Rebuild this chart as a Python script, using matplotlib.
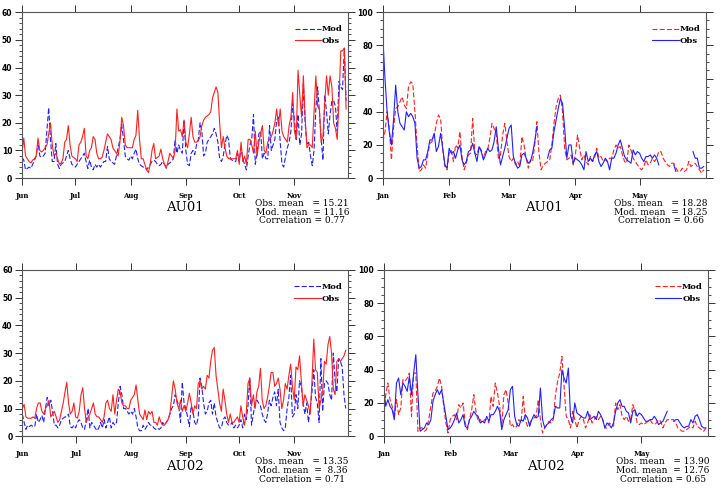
import numpy as np
import matplotlib
matplotlib.use("Agg")
import matplotlib.pyplot as plt
from matplotlib.ticker import MultipleLocator
from matplotlib.lines import Line2D

nan = np.nan

#
# Daily series (Jun-Nov season, left panels)
#
jun_months = ["Jun", "Jul", "Aug", "Sep", "Oct", "Nov"]
jun_month_days = [0, 30, 61, 92, 122, 153]
jun_ndays = 183

au01_jun_mod = [7.5, 6.5, 3, 3.5, 4, 3.5, 5, 6.5, 8, 13,
                8, 7.5, 8, 9, 17, 25.5, 14, 6, 6, 12.5,
                5, 3.5, 5, 5.5, 6, 8, 10, 7, 5, 4.5,
                4, 5, 6, 7, 8, 9, 6, 3.5, 6.5, 4,
                3, 5, 4, 5, 4, 5, 6, 6, 11.5, 7,
                6, 5.5, 5, 8, 11, 14, 19.5, 14, 8, 7,
                6.5, 8, 7, 9, 10.5, 7, 5, 4.5, 4, 4,
                3, 4, 5, 6, 6.5, 6, 5, 4.5, 5, 6,
                5, 4, 5, 5.5, 6, 7, 14, 9, 12, 10,
                9, 21, 10, 5, 4.5, 9, 10, 8.5, 12, 14,
                20, 17, 8, 9, 13, 14, 15, 16, 18, 16,
                13, 7, 6, 8, 12, 15.5, 14, 7, 6.5, 6,
                6, 9, 6, 11, 7, 5, 3, 8, 12, 14,
                23, 5, 9, 16, 17, 7, 9, 7, 7, 19,
                10, 12, 14, 21, 22, 13, 5, 4, 8, 11,
                13, 17, 27, 21, 14, 23, 12, 16, 34, 20,
                12, 13, 8, 4.5, 10, 25, 33, 24, 14, 6.5,
                30, 24, 16, 23, 28, 28, 26, 17, 35, 33,
                32, 47, 28]
au01_jun_obs = [9, 14.5, 8, 7, 6, 5.5, 6.5, 7, 8, 14.5,
                10, 9.5, 10, 11, 12, 16, 20, 12, 8, 9,
                7, 5, 5.5, 7, 13, 14, 19, 12, 8, 7.5,
                7, 6, 12, 13, 15, 18, 8, 7, 10, 11,
                15, 14, 9, 7, 7, 7.5, 10, 13, 16, 15,
                14, 11, 10, 9, 8, 13, 22, 19, 12, 11,
                11, 11, 11, 14, 15.5, 24.5, 14, 7, 7, 5,
                3, 2, 5, 10, 12.5, 7, 7.5, 8, 10.5, 7,
                5, 3.5, 6, 9, 8, 7, 10, 25, 17, 17.5,
                15, 21, 13, 11, 16, 22, 15, 13, 13, 13.5,
                15, 19, 21, 22, 22.5, 23, 24, 29, 31, 33,
                31, 20, 11, 15, 11, 8, 7, 7, 7, 7,
                7, 10, 5, 13, 6, 8, 5, 14, 14, 12,
                9, 17, 8, 13, 16, 19, 10, 9, 13, 14,
                15, 17, 20, 25, 19, 25, 17, 15, 14, 13,
                19, 22, 31, 17, 14, 39, 30, 22, 37, 22,
                11, 12, 12, 11, 24, 37, 26, 25, 13, 15,
                27, 37, 30, 37, 33, 20, 18, 14, 28, 46,
                46, 47, 25]

au02_jun_obs = [10, 11.5, 7, 6.5, 6.5, 6.5, 7, 6.5, 10,
                12, 12, 9, 8, 10, 11, 13, 7, 8, 9,
                7, 5, 6, 9, 12, 16, 19.5, 12, 8,
                9, 12, 7, 6.5, 9, 15, 17.5, 10, 5,
                7, 8, 10, 12, 8, 7, 7, 6, 5, 7,
                12, 13, 10, 9, 15, 8, 13, 17, 16,
                12, 11, 11, 10, 10, 13, 14, 15, 18.5, 13,
                8, 7, 6, 9.5, 6, 9, 8, 9, 5,
                5, 4, 7, 5, 4, 4, 5, 6, 8,
                14, 20, 17, 12, 10, 13, 9, 11, 9, 12,
                15.5, 12, 8, 11, 10, 19, 20, 17, 18,
                17, 22, 21, 27, 31, 32, 22, 17, 12, 9,
                17, 13, 8, 5, 8, 5, 5, 6, 7,
                5, 11, 7, 4, 8, 19, 21, 11, 15,
                10, 16, 18, 24.5, 13, 10, 11, 14, 18, 23,
                23, 18, 19, 21, 17, 10, 13, 19, 17, 22,
                26, 18, 13, 25, 24, 29, 20, 11, 15,
                13, 11, 8, 20, 35, 24, 23, 10, 13, 16,
                27, 26, 33, 36, 30, 17, 15, 27, 28,
                27, 28, 29, 31]
au02_jun_mod = [8, 5, 2.5, 4, 3.5, 4, 3.5, 3.5, 8,
                5, 6, 7.5, 5, 10, 14, 11, 13, 9, 4,
                4, 3, 4, 6, 6.5, 7, 7, 8, 3.5,
                3, 4, 3, 5, 6, 5, 3, 2.5, 6,
                10, 3, 5, 4, 3, 2, 3, 5, 3, 6,
                3, 5, 7, 3, 5, 4, 5, 12, 18,
                15, 10, 10, 9, 8, 9, 8, 10, 7,
                3, 2, 2, 4, 2.5, 3.5, 5, 4, 4, 3,
                2.5, 3, 2.5, 3, 5, 4, 5, 6, 8,
                10, 11, 15, 13, 11, 5, 19.5, 12, 10,
                7, 3.5, 11, 9, 5, 4, 7, 21, 18, 12,
                8, 9, 12, 13, 8, 12, 7, 5, 3,
                3, 6, 7, 5, 4, 4, 5, 3, 4, 3,
                4, 6, 3, 8, 6, 11, 21, 4, 8,
                12, 13, 12, 11, 8, 6, 5, 8, 13,
                11, 14, 16, 11, 17, 5, 3, 2, 3, 10,
                14, 22, 7, 8, 15, 10, 20, 18, 12,
                8, 12, 5, 10, 16, 24, 14, 12, 5,
                28, 9, 19, 20, 19, 15, 13, 30, 20, 16,
                28, 27, 25, 15, 10]

#
# Daily series (Jan-May season, right panels)
#
jan_months = ["Jan", "Feb", "Mar", "Apr", "May"]
jan_month_days = [0, 31, 59, 90, 120]
jan_ndays = 151

au01_jan_mod = [22, 28, 40, 30, 11, 30, 42, 43, 46, 49,
                44, 42, 55, 58, 57, 40, 20, 4, 5, 8,
                6, 14, 21, 22, 25, 33, 38, 36, 17, 7,
                5, 15, 17, 10, 20, 18, 28, 13, 5, 9,
                14, 15, 36, 15, 14, 19, 17, 12, 16, 17,
                24, 33, 30, 27, 12, 14, 26, 33, 22, 13,
                10, 12, 8, 10, 7, 25, 20, 12, 6, 11,
                10, 20, 34, 15, 5, 8, 9, 10, 11, 20,
                33, 43, 48, 50, 40, 18, 11, 12, 14, 8,
                14, 26, 18, 11, 14, 10, 8, 13, 10, 12,
                18, 12, 13, 10, 11, 10, 12, 12, 17, 20,
                18, 19, 14, 10, 9, 20, 17, 12, 10, 8,
                6, 5, 7, 11, 8, 9, 12, 10, 12, 16,
                16, 12, 10, 8, 7, 9, 9, 6, 4, 4,
                6, 4, 5, 10, 7, 8, 9, 7, 5, 3,
                5]
au01_jan_obs = [85, 60, 40, 28, 20, 35, 56, 40, 33, 31,
                29, 40, 37, 39, 37, 33, 12, 6, 7, 11,
                11, 16, 23, 23, 27, 16, 19, 27, 18, 8,
                6, 18, 15, 16, 12, 17, 20, 11, 8, 10,
                16, 17, 21, 15, 10, 19, 16, 11, 14, 18,
                16, 17, 22, 31, 18, 8, 13, 18, 24, 30,
                32, 13, 9, 6, 7, 14, 15, 12, 9, 10,
                15, 22, 31, nan, nan, nan, nan, 12, 17, 18,
                28, 35, 42, 48, 45, 30, 12, 20, 20, 9,
                12, 11, 10, 8, 5, 16, 10, 12, 10, 14,
                16, 10, 7, 9, 12, 10, 5, 12, 12, 15,
                20, 23, 18, 13, 11, 10, 9, 17, 14, 16,
                15, 12, 10, 13, 13, 14, 12, 14, 12, 8,
                nan, nan, nan, nan, nan, nan, 8, 4, nan, nan,
                nan, nan, nan, nan, nan, 16, 12, 12, 6, 6,
                7]

au02_jan_mod = [10, 25, 32, 22, 18, 11, 22, 13, 17, 34,
                33, 35, 38, 12, 38, 38, 3, 5, 5, 3,
                4, 10, 18, 26, 27, 30, 35, 30, 18, 8,
                2, 10, 12, 13, 10, 19, 17, 20, 8, 4,
                10, 16, 25, 15, 9, 10, 8, 10, 10, 8,
                24, 18, 32, 26, 18, 6, 25, 28, 20, 6,
                7, 5, 6, 10, 8, 24, 10, 6, 8, 10,
                11, 12, 22, 10, 2, 5, 7, 9, 8, 10,
                25, 33, 38, 48, 30, 12, 10, 5, 15, 10,
                5, 10, 12, 10, 5, 8, 13, 8, 10, 12,
                10, 12, 10, 5, 5, 8, 7, 6, 20, 16,
                19, 12, 10, 12, 9, 10, 19, 15, 8, 7,
                8, 7, 8, 9, 10, 8, 7, 8, 10, 9,
                5, 8, 10, 10, 10, 10, 8, 5, 4, 3,
                3, 4, 5, 6, 5, 9, 6, 5, 4, 3,
                5]
au02_jan_obs = [29, 18, 22, 18, 16, 10, 32, 35, 25, 32,
                30, 27, 36, 25, 38, 49, 25, 3, 4, 5,
                8, 7, 10, 21, 25, 28, 25, 28, 20, 12,
                4, 5, 7, 10, 14, 8, 10, 13, 6, 5,
                10, 12, 15, 13, 12, 8, 9, 8, 12, 9,
                13, 13, 15, 18, 15, 4, 10, 13, 16, 28,
                30, 12, 7, 6, 10, 9, 13, 11, 6, 10,
                13, 11, 12, 29, 10, 5, 7, 8, 10, 11,
                18, 17, 17, 40, 35, 32, 41, 12, 8, 20,
                14, 13, 12, 11, 11, 15, 10, 11, 12, 10,
                15, 13, 10, 5, 8, 7, 5, 8, 15, 20,
                22, 18, 18, 15, 14, 8, 15, 16, 12, 14,
                13, 11, 9, 9, 10, 10, 12, 10, 7, 8,
                9, 12, 15, nan, nan, 9, 10, 10, 8, 6,
                5, 6, 6, 10, 8, 12, 13, 10, 6, 5,
                5]

stations = ["AU01", "AU02"]
jun_stats = [("15.21", "11.16", "0.77"), ("13.35", "8.36", "0.71")]
jan_stats = [("18.28", "18.25", "0.66"), ("13.90", "12.76", "0.65")]

RED = "#ff2020"
BLUE = "#2020ff"


def draw_panel(ax, mod, obs, mod_color, obs_color, months, month_days, ndays,
               ymax, ymajor, yminor, station, stats):
    ax.plot(np.arange(len(mod)), mod, color=mod_color, lw=0.8, dashes=(4.5, 2))
    ax.plot(np.arange(len(obs)), obs, color=obs_color, lw=0.8)

    ax.set_xlim(0, ndays)
    ax.set_ylim(0, ymax)

    ax.set_xticks(month_days)
    ax.set_xticklabels(months, fontsize=5, fontweight='bold', family='DejaVu Serif')
    yt = np.arange(0, ymax + 1, ymajor)
    ax.set_yticks(yt)
    ax.set_yticklabels([str(v) for v in yt], fontsize=5.5, fontweight='bold',
                       family='DejaVu Sans')
    ax.yaxis.set_minor_locator(MultipleLocator(yminor))

    for sp in ax.spines.values():
        sp.set_color('#555555')
        sp.set_linewidth(0.8)
    ax.tick_params(axis='x', which='major', direction='out', length=5, width=0.7,
                   top=True, bottom=True, pad=5, colors='#333333', labelcolor='black')
    ax.tick_params(axis='y', which='major', direction='out', length=5, width=0.7,
                   left=True, right=True, pad=2, colors='#333333', labelcolor='black')
    ax.tick_params(axis='y', which='minor', direction='out', length=2.5, width=0.6,
                   left=True, right=True, colors='#333333')

    handles = [Line2D([], [], color=mod_color, lw=0.8, dashes=(4.5, 2)),
               Line2D([], [], color=obs_color, lw=0.8)]
    ax.legend(handles, ["Mod", "Obs"], loc='upper right', bbox_to_anchor=(1.0, 0.95),
              frameon=False, handlelength=3.2, handletextpad=0.1, labelspacing=0.45,
              borderaxespad=0.2, prop={'family': 'DejaVu Serif', 'weight': 'bold', 'size': 6})

    ax.text(0.5, -0.18, station, transform=ax.transAxes, ha='center', va='center',
            fontsize=9.5, family='DejaVu Serif')
    obs_m, mod_m, corr = stats
    txt = (f"Obs. mean   = {obs_m}\n"
           f"Mod. mean  = {mod_m:>5}\n"
           f"Correlation = {corr}")
    ax.text(0.86, -0.205, txt, transform=ax.transAxes, ha='center', va='center',
            multialignment='center', fontsize=6.5, family='DejaVu Serif',
            linespacing=0.98)


fig = plt.figure(figsize=(7.21, 4.88), dpi=100)

# panel boxes, figure fractions
ax_tl = fig.add_axes([0.0305, 0.635, 0.452, 0.340])
ax_tr = fig.add_axes([0.531, 0.635, 0.448, 0.340])
ax_bl = fig.add_axes([0.031, 0.106, 0.451, 0.341])
ax_br = fig.add_axes([0.532, 0.106, 0.450, 0.341])

draw_panel(ax_tl, au01_jun_mod, au01_jun_obs, BLUE, RED, jun_months, jun_month_days,
           jun_ndays, 60, 10, 2, stations[0], jun_stats[0])
draw_panel(ax_tr, au01_jan_mod, au01_jan_obs, RED, BLUE, jan_months, jan_month_days,
           jan_ndays, 100, 20, 5, stations[0], jan_stats[0])
draw_panel(ax_bl, au02_jun_mod, au02_jun_obs, BLUE, RED, jun_months, jun_month_days,
           jun_ndays, 60, 10, 2, stations[1], jun_stats[1])
draw_panel(ax_br, au02_jan_mod, au02_jan_obs, RED, BLUE, jan_months, jan_month_days,
           jan_ndays, 100, 20, 5, stations[1], jan_stats[1])

fig.savefig("out.png", dpi=100)
